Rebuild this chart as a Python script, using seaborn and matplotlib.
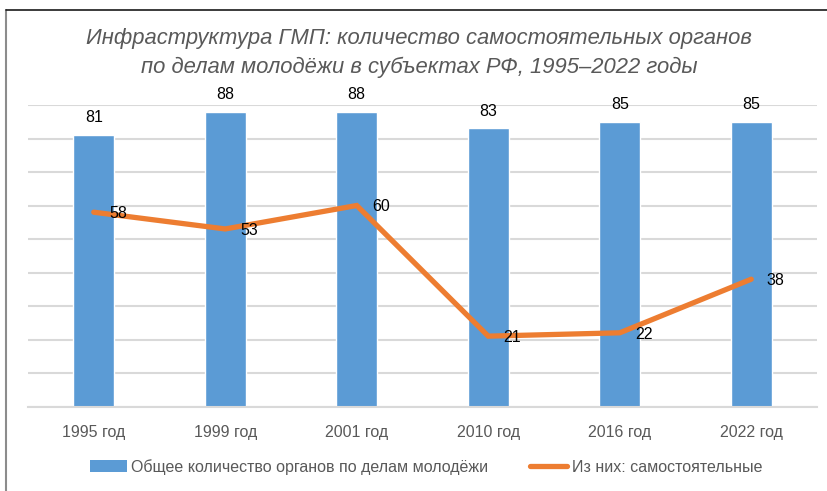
import matplotlib
matplotlib.use("Agg")
import matplotlib.pyplot as plt
import seaborn as sns
import pandas as pd
from matplotlib.lines import Line2D
from matplotlib.patches import Patch

years = ["1995 год", "1999 год", "2001 год", "2010 год", "2016 год", "2022 год"]
total_bodies = [81, 88, 88, 83, 85, 85]
independent_bodies = [58, 53, 60, 21, 22, 38]
title_lines = ["Инфраструктура ГМП: количество самостоятельных органов",
               "по делам молодёжи в субъектах РФ, 1995–2022 годы"]
legend_labels = ["Общее количество органов по делам молодёжи",
                 "Из них: самостоятельные"]

BLUE = "#5B9BD5"
ORANGE = "#ED7D31"
GRID = "#D9D9D9"
TXT = "#595959"

sns.set_theme(style="white")
plt.rcParams["font.family"] = ["Liberation Sans", "DejaVu Sans"]

df = pd.DataFrame({"year": years, "total": total_bodies, "indep": independent_bodies})

fig = plt.figure(figsize=(8.28, 4.91), dpi=100)
ax = fig.add_axes([28 / 828, 1 - 406.5 / 491, (817 - 28) / 828, (406.5 - 105) / 491])

sns.barplot(data=df, x="year", y="total", color=BLUE, saturation=1, width=0.31,
            ax=ax, zorder=2)
sns.pointplot(data=df, x="year", y="indep", color=ORANGE, markers="", errorbar=None,
              linewidth=3.8, ax=ax, zorder=3)
for l in ax.lines:
    l.set_solid_capstyle("round")
    l.set_solid_joinstyle("miter")

ax.set_ylim(0, 90)
ax.set_xlim(-0.5, 5.5)
ax.set_yticks(range(0, 91, 10))
ax.set_yticklabels([])
ax.yaxis.grid(True, color=GRID, linewidth=1.5, zorder=0)
ax.set_axisbelow(True)
ax.tick_params(axis="y", length=0)
ax.tick_params(axis="x", length=0, colors=TXT, labelsize=11.5, pad=13.5)
ax.set_xlabel("")
ax.set_ylabel("")
for s in ["top", "right", "left"]:
    ax.spines[s].set_visible(False)
ax.spines["bottom"].set_color(GRID)
ax.spines["bottom"].set_linewidth(1.5)

ax.bar_label(ax.containers[0], padding=7, fontsize=11.5, color="#000000")
for i, v in enumerate(independent_bodies):
    ax.annotate(str(v), (i, v), xytext=(11, -1), textcoords="offset points",
                ha="left", va="center", fontsize=11.5, color="#000000")

fig.text(0.506, 1 - 53 / 491, "\n".join(title_lines), ha="center", va="center",
         fontsize=15.8, style="italic", color=TXT, linespacing=1.45)

handles = [Patch(facecolor=BLUE, edgecolor="none"),
           Line2D([0], [0], color=ORANGE, linewidth=3.8, solid_capstyle="round")]
fig.legend(handles, legend_labels, loc="center", bbox_to_anchor=(426 / 828, 1 - 467 / 491),
           ncol=2, frameon=False, fontsize=11.5, labelcolor=TXT,
           handlelength=2.3, handleheight=0.75, handletextpad=0.3, columnspacing=2.6)

fig.add_artist(Line2D([6.5 / 828, 6.5 / 828], [0, 1 - 10 / 491], transform=fig.transFigure,
                      color="#8C8C8C", linewidth=1.5))
fig.add_artist(Line2D([6 / 828, 1], [1 - 10 / 491, 1 - 10 / 491], transform=fig.transFigure,
                      color="#1A1A1A", linewidth=1.2))

fig.savefig("out.png", dpi=100)
